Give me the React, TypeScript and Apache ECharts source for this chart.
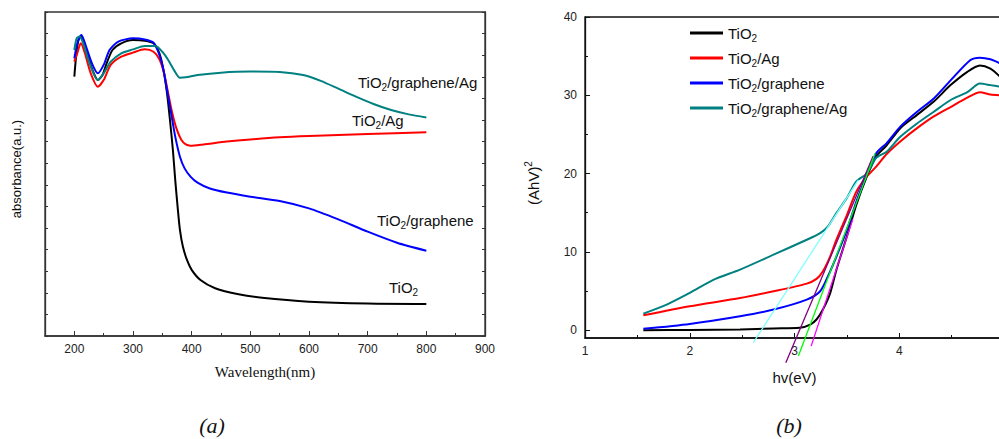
import React, { useEffect, useRef } from "react";
import * as echarts from "echarts";

// ---------- (a) UV-vis absorbance ----------
const wlTiO2 = [200, 203, 207, 212, 218, 225, 232, 240, 248, 255, 265, 280, 300, 320, 335, 345, 352, 358, 363, 368, 372, 376, 380, 385, 392, 400, 415, 440, 480, 520, 600, 700, 800];
const absTiO2 = [12.01, 12.93, 13.7, 13.86, 13.4, 12.78, 12.24, 11.85, 12.08, 12.62, 13.24, 13.55, 13.7, 13.67, 13.55, 13.09, 12.31, 11.23, 10.0, 8.61, 7.22, 5.99, 4.91, 4.14, 3.52, 3.06, 2.59, 2.21, 1.93, 1.77, 1.59, 1.5, 1.48];

const wlAg = [200, 205, 211, 218, 228, 240, 250, 262, 280, 300, 320, 335, 345, 353, 360, 367, 374, 382, 390, 398, 420, 460, 500, 550, 600, 700, 800];
const absAg = [12.7, 13.09, 13.55, 13.09, 12.16, 11.54, 11.85, 12.55, 12.93, 13.12, 13.27, 13.16, 12.81, 12.16, 11.23, 10.31, 9.61, 9.1, 8.87, 8.81, 8.87, 9.0, 9.1, 9.2, 9.26, 9.35, 9.43];

const wlG = [200, 205, 212, 220, 230, 240, 250, 260, 275, 300, 320, 335, 345, 352, 358, 365, 372, 380, 388, 398, 410, 430, 460, 500, 550, 600, 650, 700, 750, 800];
const absG = [12.85, 13.55, 13.94, 13.4, 12.62, 12.16, 12.55, 13.24, 13.63, 13.78, 13.73, 13.58, 13.01, 12.31, 11.39, 10.31, 9.23, 8.3, 7.76, 7.38, 7.1, 6.84, 6.64, 6.45, 6.25, 5.91, 5.4, 4.83, 4.32, 3.95];

const wlGAg = [200, 204, 209, 216, 226, 240, 250, 262, 280, 300, 320, 338, 350, 360, 370, 380, 390, 410, 450, 500, 550, 590, 620, 650, 680, 710, 740, 770, 800];
const absGAg = [13.24, 13.78, 13.86, 13.48, 12.62, 11.85, 12.16, 12.7, 13.09, 13.27, 13.43, 13.43, 13.16, 12.78, 12.31, 11.96, 11.98, 12.08, 12.19, 12.24, 12.22, 12.08, 11.81, 11.45, 11.08, 10.74, 10.46, 10.26, 10.12];

const wlMajorTicks = [200, 300, 400, 500, 600, 700, 800, 900];
const wlMinorTicks = [250, 350, 450, 550, 650, 750, 850];

// ---------- (b) Tauc plot ----------
const evTiO2 = [1.557, 2.0, 2.48, 2.8, 3.05, 3.15, 3.21, 3.27, 3.34, 3.4, 3.5, 3.59, 3.69, 3.78, 3.88, 4.01, 4.17, 4.33, 4.49, 4.65, 4.77, 4.87, 4.96];
const taucTiO2 = [0.0, 0.03, 0.09, 0.22, 0.3, 0.72, 1.36, 2.6, 4.7, 7.7, 11.98, 16.0, 19.6, 22.2, 23.6, 25.8, 27.5, 29.2, 31.3, 33.0, 33.8, 33.4, 32.4];

const evAg = [1.557, 2.0, 2.48, 2.8, 3.117, 3.21, 3.27, 3.34, 3.4, 3.5, 3.59, 3.69, 3.78, 3.88, 4.01, 4.17, 4.33, 4.49, 4.65, 4.77, 4.87, 4.96];
const taucAg = [1.9, 3.06, 4.1, 4.97, 5.95, 6.55, 7.5, 9.4, 11.55, 14.7, 17.7, 19.6, 20.9, 22.5, 24.1, 25.8, 27.3, 28.5, 29.7, 30.4, 30.1, 30.0];

const evG = [1.557, 2.0, 2.48, 2.8, 3.117, 3.245, 3.32, 3.4, 3.5, 3.59, 3.69, 3.78, 3.88, 4.01, 4.17, 4.33, 4.49, 4.68, 4.77, 4.87, 4.96];
const taucG = [0.17, 0.8, 1.78, 2.63, 3.9, 4.97, 6.9, 9.4, 12.8, 16.4, 19.8, 22.6, 23.9, 26.0, 27.9, 29.6, 31.9, 34.5, 34.8, 34.6, 34.1];

const evGAg = [1.557, 1.78, 2.0, 2.23, 2.48, 2.8, 3.117, 3.245, 3.32, 3.4, 3.5, 3.59, 3.69, 3.78, 3.88, 4.01, 4.17, 4.33, 4.49, 4.65, 4.77, 4.87, 4.96];
const taucGAg = [2.12, 3.27, 4.76, 6.45, 7.73, 9.64, 11.55, 12.4, 13.25, 14.95, 16.9, 19.0, 20.0, 22.0, 22.8, 24.7, 26.4, 27.9, 29.4, 30.4, 31.5, 31.3, 31.1];

// tangent (band-gap extrapolation) lines: [x, y] endpoints
const fitCyan = [[2.607, -1.6], [3.61, 19.2]];
const fitPurple = [[2.917, -4.15], [3.75, 22.2]];
const fitGreen = [[3.037, -3.3], [3.77, 22.6]];
const fitMagenta = [[3.159, -2.04], [3.557, 14.2]];

const evTickLabels = [1, 2, 3, 4];
const taucMajorY = [0, 10, 20, 30, 40];
const taucMinorY = [5, 15, 25, 35];

const names = ["TiO2", "TiO2/Ag", "TiO2/graphene", "TiO2/graphene/Ag"];
const colors = ["#000000", "#ff0000", "#0000ff", "#008080"];

const zip = (xs: number[], ys: number[]) => xs.map((x, i) => [x, ys[i]]);

const SANS = 'Arial, "Liberation Sans", sans-serif';
const SERIF = '"Times New Roman", "Liberation Serif", serif';

const richSub = {
  sub: { fontSize: 10, verticalAlign: "bottom", lineHeight: 12, fontFamily: SANS, fill: "#111", color: "#111" },
};
const fmt = (s: string) => s.replace("TiO2", "TiO{sub|2}");

export default function App() {
  const ref = useRef<HTMLDivElement>(null);
  useEffect(() => {
    if (!ref.current) return;
    const chart = echarts.init(ref.current, undefined, { renderer: "svg" });
    const axisColor = "#333";
    const labelText = (text: string, x: number, y: number) => ({
      type: "text",
      x,
      y,
      style: {
        text: fmt(text),
        fontSize: 15,
        fontFamily: SANS,
        fill: "#111",
        align: "left",
        verticalAlign: "middle",
        lineHeight: 20,
        rich: richSub,
      },
    });

    const uvData = [zip(wlTiO2, absTiO2), zip(wlAg, absAg), zip(wlG, absG), zip(wlGAg, absGAg)];
    const taucData = [zip(evTiO2, taucTiO2), zip(evAg, taucAg), zip(evG, taucG), zip(evGAg, taucGAg)];
    const fits = [
      { d: fitCyan, c: "#80ffff" },
      { d: fitPurple, c: "#800080" },
      { d: fitGreen, c: "#00ff00" },
      { d: fitMagenta, c: "#ff00ff" },
    ];

    const option: any = {
      animation: false,
      backgroundColor: "#ffffff",
      textStyle: { fontFamily: SANS },
      grid: [
        { left: 45, top: 12, width: 440, height: 324, show: true, borderColor: axisColor, borderWidth: 1.3, backgroundColor: "transparent", outerBoundsMode: "none", containLabel: false },
        { left: 585, top: 17, width: 419, height: 321, show: true, borderColor: "#111", borderWidth: 1.3, backgroundColor: "transparent", outerBoundsMode: "none", containLabel: false },
      ],
      legend: {
        data: names,
        orient: "vertical",
        left: 685,
        top: 18,
        itemWidth: 33,
        itemHeight: 3,
        itemGap: 5,
        icon: "rect",
        formatter: (n: string) => fmt(n),
        textStyle: { fontSize: 15, color: "#111", fontFamily: SANS, lineHeight: 20, rich: { sub: { fontSize: 10, verticalAlign: "bottom", lineHeight: 12, color: "#111" } } },
      },
      xAxis: [
        {
          gridIndex: 0, type: "value", min: 150, max: 900, position: "bottom",
          axisLine: { show: true, onZero: false, lineStyle: { color: axisColor, width: 1.5 } },
          axisTick: { show: true, inside: true, length: 5, customValues: wlMajorTicks, lineStyle: { color: axisColor } },
          axisLabel: { show: true, customValues: wlMajorTicks, fontSize: 12, color: "#222", margin: 7 },
          splitLine: { show: false },
        },
        {
          gridIndex: 0, type: "value", min: 150, max: 900, position: "bottom",
          axisLine: { show: false, onZero: false },
          axisTick: { show: true, inside: true, length: 3, customValues: wlMinorTicks, lineStyle: { color: axisColor } },
          axisLabel: { show: false },
          splitLine: { show: false },
        },
        {
          gridIndex: 1, type: "value", min: 1, max: 5, interval: 1, position: "bottom",
          axisLine: { show: true, onZero: false, lineStyle: { color: "#111", width: 1.5 } },
          axisTick: { show: true, inside: true, length: 5, lineStyle: { color: "#111" } },
          minorTick: { show: true, splitNumber: 2, length: 3, lineStyle: { color: "#111" } },
          axisLabel: { show: true, customValues: evTickLabels, fontSize: 12, color: "#222", margin: 7 },
          splitLine: { show: false },
        },
      ],
      yAxis: [
        {
          gridIndex: 0, type: "value", min: 0, max: 15, interval: 1, position: "left",
          axisLine: { show: true, onZero: false, lineStyle: { color: axisColor, width: 1.3 } },
          axisTick: { show: true, inside: true, length: 3, lineStyle: { color: axisColor } },
          axisLabel: { show: false },
          splitLine: { show: false },
        },
        {
          gridIndex: 0, type: "value", min: 0, max: 15, interval: 1, position: "right",
          axisLine: { show: true, onZero: false, lineStyle: { color: axisColor, width: 1.3 } },
          axisTick: { show: true, inside: true, length: 3, lineStyle: { color: axisColor } },
          axisLabel: { show: false },
          splitLine: { show: false },
        },
        {
          gridIndex: 1, type: "value", min: -1, max: 40, position: "left",
          axisLine: { show: true, onZero: false, lineStyle: { color: "#111", width: 1.3 } },
          axisTick: { show: true, inside: true, length: 5, customValues: taucMajorY, lineStyle: { color: "#111" } },
          axisLabel: { show: true, customValues: taucMajorY, fontSize: 12, color: "#222", margin: 8 },
          splitLine: { show: false },
        },
        {
          gridIndex: 1, type: "value", min: -1, max: 40, position: "left",
          axisLine: { show: false, onZero: false },
          axisTick: { show: true, inside: true, length: 3, customValues: taucMinorY, lineStyle: { color: "#111" } },
          axisLabel: { show: false },
          splitLine: { show: false },
        },
      ],
      series: [
        ...names.map((n, i) => ({
          name: n, type: "line", xAxisIndex: 0, yAxisIndex: 0, data: uvData[i], showSymbol: false, symbol: "none",
          smooth: 0.25, lineStyle: { color: colors[i], width: 2 }, itemStyle: { color: colors[i] },
        })),
        ...names.map((n, i) => ({
          name: n, type: "line", xAxisIndex: 2, yAxisIndex: 2, data: taucData[i], showSymbol: false, symbol: "none",
          smooth: 0.25, lineStyle: { color: colors[i], width: 2 }, itemStyle: { color: colors[i] },
        })),
        ...fits.map((f) => ({
          type: "line", xAxisIndex: 2, yAxisIndex: 2, data: f.d, showSymbol: false, symbol: "none", clip: false,
          silent: true, lineStyle: { color: f.c, width: 1.3 }, itemStyle: { color: f.c },
        })),
      ],
      graphic: [
        labelText("TiO2/graphene/Ag", 358, 82),
        labelText("TiO2/Ag", 352, 120),
        labelText("TiO2/graphene", 377, 220),
        labelText("TiO2", 389, 287),
        {
          type: "text", x: 16, y: 169, rotation: Math.PI / 2,
          style: { text: "absorbance(a.u.)", fontSize: 13, fontFamily: SANS, fill: "#111", align: "center", verticalAlign: "middle" },
        },
        {
          type: "text", x: 265, y: 372,
          style: { text: "Wavelength(nm)", fontSize: 15, fontFamily: SERIF, fill: "#111", align: "center", verticalAlign: "middle" },
        },
        {
          type: "text", x: 533, y: 183, rotation: Math.PI / 2,
          style: {
            text: "(AhV){sup|2}", fontSize: 15, fontFamily: SANS, fill: "#111", align: "center", verticalAlign: "middle", lineHeight: 20,
            rich: { sup: { fontSize: 10, verticalAlign: "top", lineHeight: 12, fontFamily: SANS, fill: "#111" } },
          },
        },
        {
          type: "text", x: 794.5, y: 377,
          style: { text: "hv(eV)", fontSize: 15, fontFamily: SANS, fill: "#111", align: "center", verticalAlign: "middle" },
        },
        {
          type: "text", x: 212, y: 425,
          style: { text: "(a)", fontSize: 22, fontStyle: "italic", fontFamily: SERIF, fill: "#111", align: "center", verticalAlign: "middle" },
        },
        {
          type: "text", x: 789, y: 425,
          style: { text: "(b)", fontSize: 22, fontStyle: "italic", fontFamily: SERIF, fill: "#111", align: "center", verticalAlign: "middle" },
        },
      ],
    };
    chart.setOption(option);
    return () => chart.dispose();
  }, []);
  return (
    <div
      ref={ref}
      style={{ position: "fixed", left: 0, top: 0, width: 999, height: 439, background: "#fff" }}
    />
  );
}
